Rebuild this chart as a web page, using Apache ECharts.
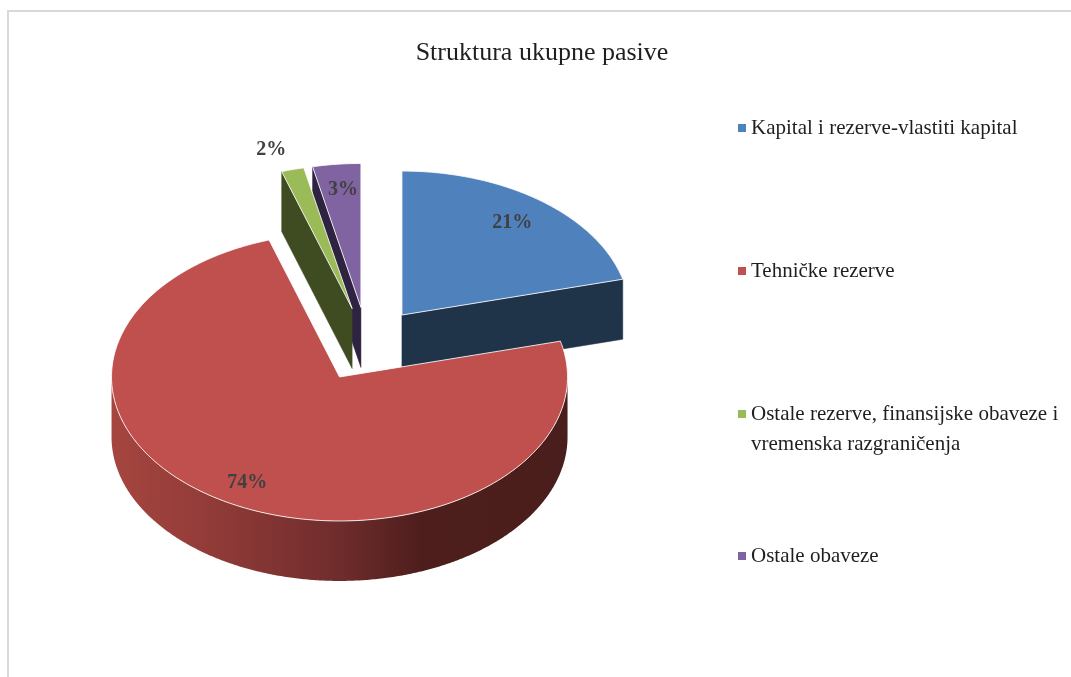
<!DOCTYPE html>
<html>
<head>
<meta charset="utf-8">
<style>html,body{margin:0;padding:0;background:#fff}#c{width:1071px;height:677px}</style>
<script src="https://cdn.jsdelivr.net/npm/echarts@6/dist/echarts.min.js"></script>
</head>
<body>
<div id="c"></div>
<script>
var titleText = 'Struktura ukupne pasive';
var categories = ['Kapital i rezerve-vlastiti kapital', 'Tehničke rezerve', 'Ostale rezerve, finansijske obaveze i\nvremenska razgraničenja', 'Ostale obaveze'];
var values = [21, 74, 1.6, 3.4];
var topColors = ['#4f81bd', '#c0504d', '#9bbb59', '#8064a2'];
var wallColors = ['#1f3349', '#4a1e1c', '#3f4c22', '#2e2340'];
var paintOrder = [0, 3, 2, 1];
var labelRadial = [0.81, 0.84, 1.14, 0.82];
var labelNudgeX = [-3, 0, -13, 2];
var legendCenterY = [128, 271, 414, 556];

var CX = 367, CY = 344.4, RX = 228, RY = 144, DEPTH = 60, EXPLODE_X = 0.25, EXPLODE_Y = 0.258;
var total = values.reduce(function (a, b) { return a + b; }, 0);
var starts = [], acc = 0;
values.forEach(function (v) { starts.push(acc / total * 360); acc += v; });

function rad(d) { return d * Math.PI / 180; }
function polar(c, deg, r) {
  return [c[0] + Math.sin(rad(deg)) * RX * r, c[1] - Math.cos(rad(deg)) * RY * r];
}
function down(p) { return [p[0], p[1] + DEPTH]; }
function wall(c, deg, color) {
  var rim = polar(c, deg, 1);
  return { type: 'polygon', shape: { points: [c, rim, down(rim), down(c)] }, style: { fill: color, stroke: color, lineWidth: 0.5 } };
}
function sliceRender(i) {
  return function (params, api) {
    var value = api.value(0);
    var a0 = starts[i], a1 = a0 + value / total * 360, mid = (a0 + a1) / 2;
    var c = [CX + Math.sin(rad(mid)) * RX * EXPLODE_X, CY - Math.cos(rad(mid)) * RY * EXPLODE_Y];
    var children = [];
    if (Math.sin(rad(a0)) < -1e-6) children.push(wall(c, a0, wallColors[i]));
    if (Math.sin(rad(a1)) > 1e-6) children.push(wall(c, a1, wallColors[i]));
    var f0 = Math.max(a0, 90), f1 = Math.min(a1, 270);
    if (f1 > f0) {
      var upper = [], lower = [];
      for (var a = f0; a <= f1; a += 0.5) { var p = polar(c, a, 1); upper.push(p); lower.unshift(down(p)); }
      children.push({
        type: 'polygon',
        shape: { points: upper.concat(lower) },
        style: {
          fill: new echarts.graphic.LinearGradient(112, 0, 568, 0, [
            { offset: 0, color: '#a6453f' },
            { offset: 0.2, color: '#933c39' },
            { offset: 0.5, color: '#6f2c2c' },
            { offset: 0.68, color: '#4d1e1c' },
            { offset: 1, color: '#4a1e1c' }
          ], true)
        }
      });
    }
    var pts = [c];
    for (var b = a0; b < a1; b += 0.5) pts.push(polar(c, b, 1));
    pts.push(polar(c, a1, 1));
    children.push({ type: 'polygon', shape: { points: pts }, style: { fill: topColors[i], stroke: 'rgba(255,255,255,0.85)', lineWidth: 1 } });
    var lp = polar(c, mid, labelRadial[i]);
    children.push({
      type: 'text', z2: 10,
      style: {
        text: Math.round(value) + '%', x: lp[0] + labelNudgeX[i], y: lp[1],
        fill: '#404040', font: 'bold 20px "Liberation Serif"', align: 'center', verticalAlign: 'middle'
      }
    });
    return { type: 'group', children: children };
  };
}

var chart = echarts.init(document.getElementById('c'), null, { renderer: 'canvas' });
chart.setOption({
  animation: false,
  backgroundColor: '#fff',
  title: {
    text: titleText, left: 537, top: 35, textAlign: 'center',
    textStyle: { fontFamily: 'Liberation Serif', fontSize: 26, fontWeight: 'normal', color: '#1f1f1f' }
  },
  legend: categories.map(function (name, i) {
    return {
      data: [name], left: 738, top: legendCenterY[i] - 12, orient: 'vertical',
      icon: 'rect', itemWidth: 8, itemHeight: 8, selectedMode: false, padding: 0,
      formatter: function (n) { return n.split('\n')[0]; },
      textStyle: { fontFamily: 'Liberation Serif', fontSize: 21, color: '#1f1f1f', lineHeight: 24 }
    };
  }),
  graphic: [
    { type: 'rect', silent: true, shape: { x: 8, y: 11, width: 1100, height: 700 }, style: { fill: 'none', stroke: '#d9d9d9', lineWidth: 2 } },
    { type: 'text', silent: true, left: 751, top: 434, style: { text: categories[2].split('\n')[1], fill: '#1f1f1f', font: '21px "Liberation Serif"' } }
  ],
  series: categories.map(function (name, i) {
    return {
      type: 'custom', name: name, coordinateSystem: 'none', silent: true,
      z: 2 + paintOrder.indexOf(i),
      itemStyle: { color: topColors[i] },
      data: [[values[i]]],
      renderItem: sliceRender(i)
    };
  })
});
</script>
</body>
</html>
